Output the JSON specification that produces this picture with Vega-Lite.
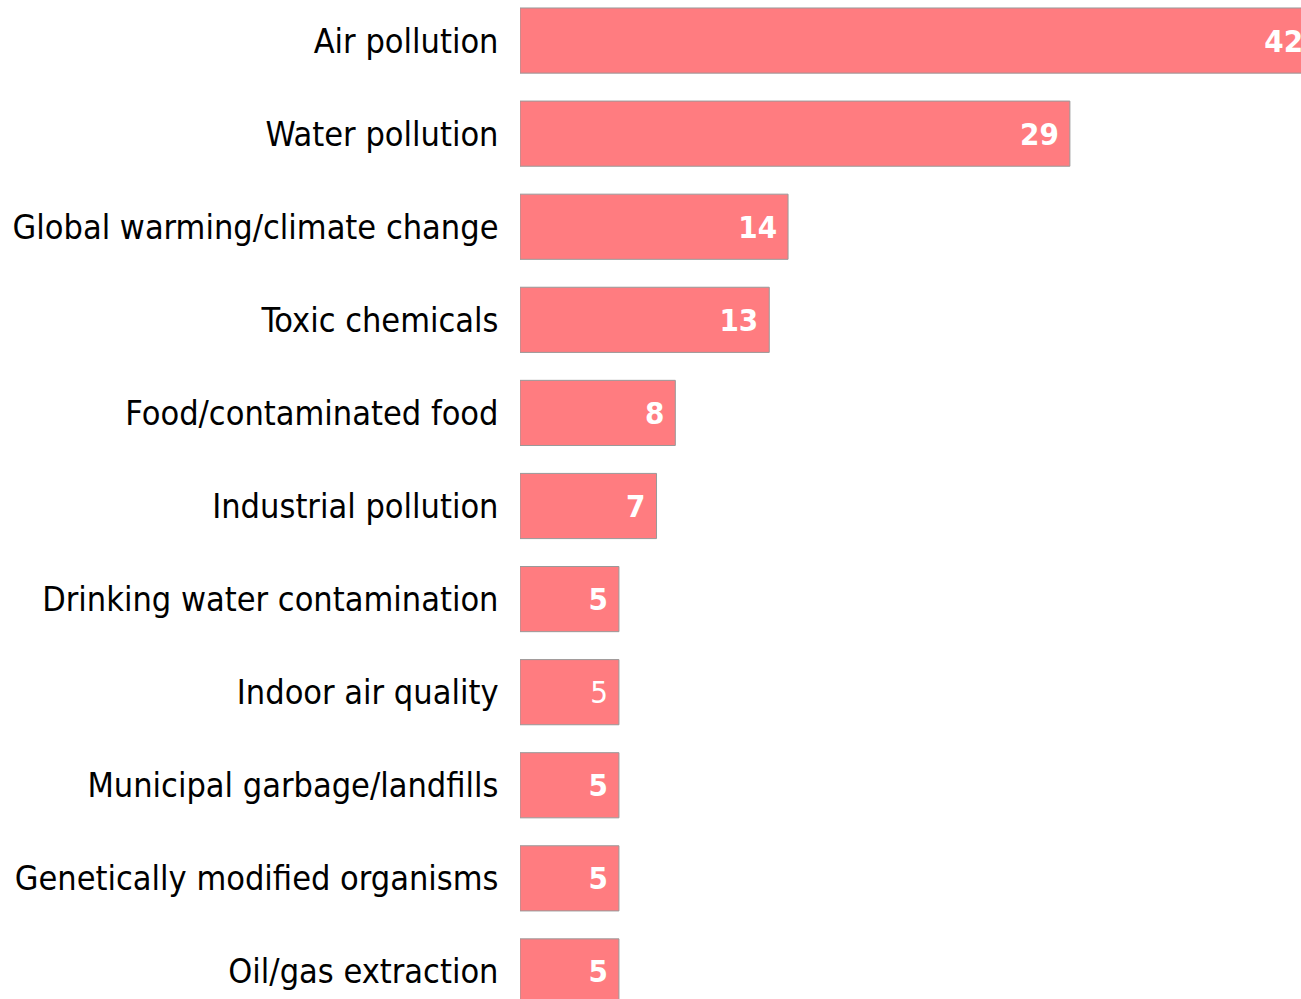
{
  "$schema": "https://vega.github.io/schema/vega-lite/v6.json",
  "width": 781,
  "height": 999,
  "autosize": "none",
  "padding": {"left": 520, "top": 0, "right": 0, "bottom": 0},
  "background": "white",
  "config": {"view": {"stroke": null}},
  "data": {
    "values": [
      {"concern": "Air pollution", "pct": 42},
      {"concern": "Water pollution", "pct": 29},
      {"concern": "Global warming/climate change", "pct": 14},
      {"concern": "Toxic chemicals", "pct": 13},
      {"concern": "Food/contaminated food", "pct": 8},
      {"concern": "Industrial pollution", "pct": 7},
      {"concern": "Drinking water contamination", "pct": 5},
      {"concern": "Indoor air quality", "pct": 5},
      {"concern": "Municipal garbage/landfills", "pct": 5},
      {"concern": "Genetically modified organisms", "pct": 5},
      {"concern": "Oil/gas extraction", "pct": 5}
    ]
  },
  "encoding": {
    "y": {
      "field": "concern",
      "type": "nominal",
      "sort": null,
      "scale": {"range": [1, 1011], "paddingInner": 0.3, "paddingOuter": 0.075},
      "axis": {
        "title": null,
        "domain": false,
        "ticks": false,
        "grid": false,
        "labelFont": "DejaVu Sans Condensed",
        "labelFontSize": 34,
        "labelColor": "#000000",
        "labelPadding": 22,
        "labelOffset": 2,
        "labelLimit": 600
      }
    },
    "x": {
      "field": "pct",
      "type": "quantitative",
      "scale": {"domain": [-0.266, 41.3], "nice": false, "zero": false},
      "axis": null
    }
  },
  "layer": [
    {
      "mark": {"type": "bar", "color": "#ff7c80", "stroke": "#999999", "strokeWidth": 1, "clip": true},
      "encoding": {"x2": {"datum": -0.266}}
    },
    {
      "transform": [{"filter": "datum.concern !== 'Indoor air quality'"}],
      "mark": {
        "type": "text",
        "align": "right",
        "baseline": "middle",
        "dx": -11,
        "dy": 2,
        "font": "DejaVu Sans Condensed",
        "fontSize": 31,
        "fontWeight": "bold",
        "color": "#ffffff",
        "clip": true
      },
      "encoding": {"text": {"field": "pct", "type": "quantitative"}}
    },
    {
      "transform": [{"filter": "datum.concern === 'Indoor air quality'"}],
      "mark": {
        "type": "text",
        "align": "right",
        "baseline": "middle",
        "dx": -11,
        "dy": 2,
        "font": "DejaVu Sans Condensed",
        "fontSize": 31,
        "fontWeight": "normal",
        "color": "#ffffff",
        "clip": true
      },
      "encoding": {"text": {"field": "pct", "type": "quantitative"}}
    }
  ]
}
